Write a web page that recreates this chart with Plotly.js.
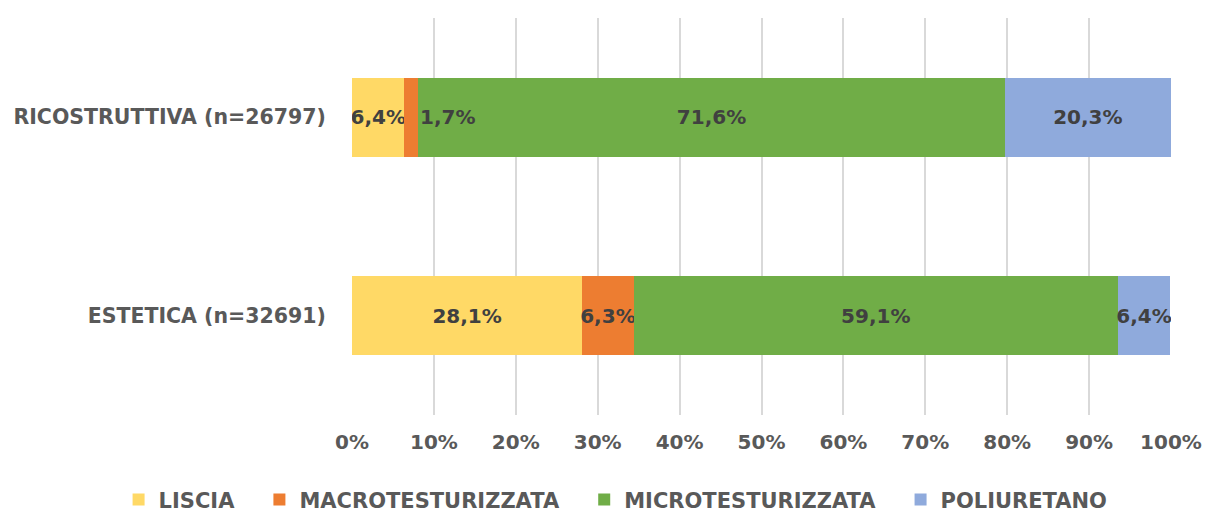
<!DOCTYPE html>
<html>
<head>
<meta charset="utf-8">
<script src="https://cdn.plot.ly/plotly-3.0.1.min.js"></script>
<style>html,body{margin:0;padding:0;background:#fff;}#chart{width:1207px;height:513px;}</style>
</head>
<body>
<div id="chart"></div>
<script>
const categories = ['ESTETICA (n=32691)', 'RICOSTRUTTIVA (n=26797)'];
const seriesNames = ['LISCIA', 'MACROTESTURIZZATA', 'MICROTESTURIZZATA', 'POLIURETANO'];
const liscia = [28.1, 6.4];
const macro = [6.3, 1.7];
const micro = [59.1, 71.6];
const poliuretano = [6.4, 20.3];
const colors = ['#FFD966', '#ED7D31', '#70AD47', '#8FAADC'];
const tickVals = [0,10,20,30,40,50,60,70,80,90,100];
const tickText = ['0%','10%','20%','30%','40%','50%','60%','70%','80%','90%','100%'];

const FONT = '"DejaVu Sans", "Open Sans", sans-serif';
const fmt = v => v.toFixed(1).replace('.', ',') + '%';
const allSeries = [liscia, macro, micro, poliuretano];
const PAD = '\u00A0\u00A0\u00A0';

const traces = allSeries.map((vals, i) => ({
  type: 'bar',
  orientation: 'h',
  name: '<b>' + seriesNames[i] + '</b>' + (i < 3 ? PAD : ''),
  x: vals,
  y: categories,
  marker: {color: colors[i], line: {width: 0}},
  text: vals.map((v, j) => (i === 1 && j === 1) ? '' : '<b>' + fmt(v) + '</b>'),
  textposition: 'inside',
  insidetextanchor: 'middle',
  textangle: 0,
  constraintext: 'none',
  textfont: {family: FONT, size: 20, color: '#404040'},
  hoverinfo: 'x+y+name'
}));

// label for the thin macro segment on the top bar, placed just after the segment
const annotations = [{
  x: liscia[1] + macro[1],
  y: categories[1],
  xref: 'x', yref: 'y',
  text: '<b>' + fmt(macro[1]) + '</b>',
  showarrow: false,
  xanchor: 'left',
  font: {family: FONT, size: 20, color: '#404040'}
}];

const layout = {
  width: 1207, height: 513,
  margin: {l: 352, r: 36, t: 18, b: 98, autoexpand: false},
  paper_bgcolor: '#ffffff', plot_bgcolor: '#ffffff',
  barmode: 'stack',
  bargap: 0.6,
  showlegend: true,
  legend: {
    orientation: 'h', x: -0.285, xanchor: 'left', xref: 'paper',
    y: -0.214, yanchor: 'middle', yref: 'paper',
    font: {family: FONT, size: 21, color: '#595959'},
    traceorder: 'normal'
  },
  xaxis: {
    range: [0, 100],
    tickvals: tickVals, ticktext: tickText.map(t => '<b>' + t + '</b>'),
    showgrid: true, gridcolor: '#d9d9d9', gridwidth: 2,
    zeroline: false, showline: false,
    ticks: 'outside', ticklen: 9, tickcolor: 'rgba(0,0,0,0)',
    tickfont: {family: FONT, size: 20, color: '#595959'},
    fixedrange: true
  },
  yaxis: {
    categoryorder: 'array', categoryarray: categories,
    ticktext: categories.map(c => '<b>' + c + '</b>'), tickvals: categories,
    showgrid: false, zeroline: false, showline: false,
    ticks: 'outside', ticklen: 21, tickcolor: 'rgba(0,0,0,0)',
    tickfont: {family: FONT, size: 20.5, color: '#595959'},
    fixedrange: true
  },
  annotations: annotations,
  font: {family: FONT}
};

Plotly.newPlot('chart', traces, layout, {displayModeBar: false, staticPlot: true});
</script>
</body>
</html>
